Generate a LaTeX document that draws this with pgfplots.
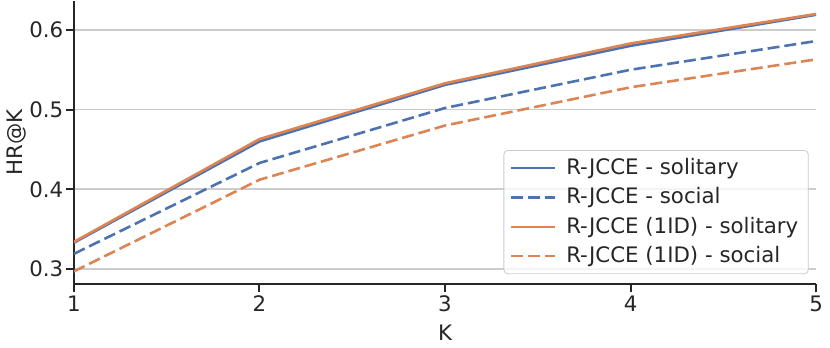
\documentclass[border=0pt]{standalone}
\usepackage{fontspec}
\setmainfont{DejaVu Sans}
\usepackage{pgfplots}
\pgfplotsset{compat=1.18}
\definecolor{sbBlue}{HTML}{4C72B0}
\definecolor{sbOrange}{HTML}{DD8452}
\definecolor{spine}{HTML}{262626}
\definecolor{gridc}{HTML}{CCCCCC}

\begin{document}
\fontsize{10.7}{12.8}\selectfont
\begin{tikzpicture}
\begin{axis}[
    scale only axis,
    width=372.5pt, height=142pt,
    xmin=1, xmax=5, ymin=0.281, ymax=0.636,
    axis x line*=bottom, axis y line*=left,
    axis line style={spine, line width=1.2pt},
    xtick={1,2,3,4,5},
    ytick={0.3,0.4,0.5,0.6},
    tick align=outside,
    major tick length=4pt,
    tick style={spine, line width=1pt},
    ymajorgrids,
    grid style={gridc, line width=0.8pt},
    /pgf/number format/assume math mode=true,
    yticklabel style={/pgf/number format/fixed, /pgf/number format/precision=1,
                      /pgf/number format/fixed zerofill, inner xsep=1.2pt},
    xticklabel style={inner ysep=1.5pt},
    ticklabel style={font=\fontsize{10.7}{12.8}\selectfont, text=spine},
    xlabel={K}, ylabel={HR@K},
    label style={font=\fontsize{10.7}{12.8}\selectfont, text=spine},
    xlabel style={yshift=-1.5pt},
    ylabel style={yshift=-3.5pt},
    legend cell align=left,
    legend style={at={(0.99,0.035)}, anchor=south east, draw=gridc, rounded corners=2pt,
                  fill=white, fill opacity=0.8, text opacity=1, text=spine,
                  font=\fontsize{10.7}{12.8}\selectfont,
                  row sep=1pt, inner xsep=3pt, inner ysep=2pt,
                  /tikz/every odd column/.append style={column sep=3pt}},
    legend image code/.code={\draw[#1] (0pt,0pt) -- (22pt,0pt);},
]
\addplot[sbBlue, line width=1.3pt] coordinates {
    (1,0.333) (2,0.460) (3,0.531) (4,0.580) (5,0.619)
};
\addlegendentry{R-JCCE - solitary}
\addplot[sbBlue, line width=1.3pt, dash pattern=on 6pt off 2.5pt] coordinates {
    (1,0.319) (2,0.433) (3,0.502) (4,0.550) (5,0.586)
};
\addlegendentry{R-JCCE - social}
\addplot[sbOrange, line width=1.3pt] coordinates {
    (1,0.334) (2,0.463) (3,0.533) (4,0.583) (5,0.620)
};
\addlegendentry{R-JCCE (1ID) - solitary}
\addplot[sbOrange, line width=1.3pt, dash pattern=on 6pt off 2.5pt] coordinates {
    (1,0.297) (2,0.412) (3,0.480) (4,0.528) (5,0.563)
};
\addlegendentry{R-JCCE (1ID) - social}
\end{axis}
\end{tikzpicture}
\end{document}
